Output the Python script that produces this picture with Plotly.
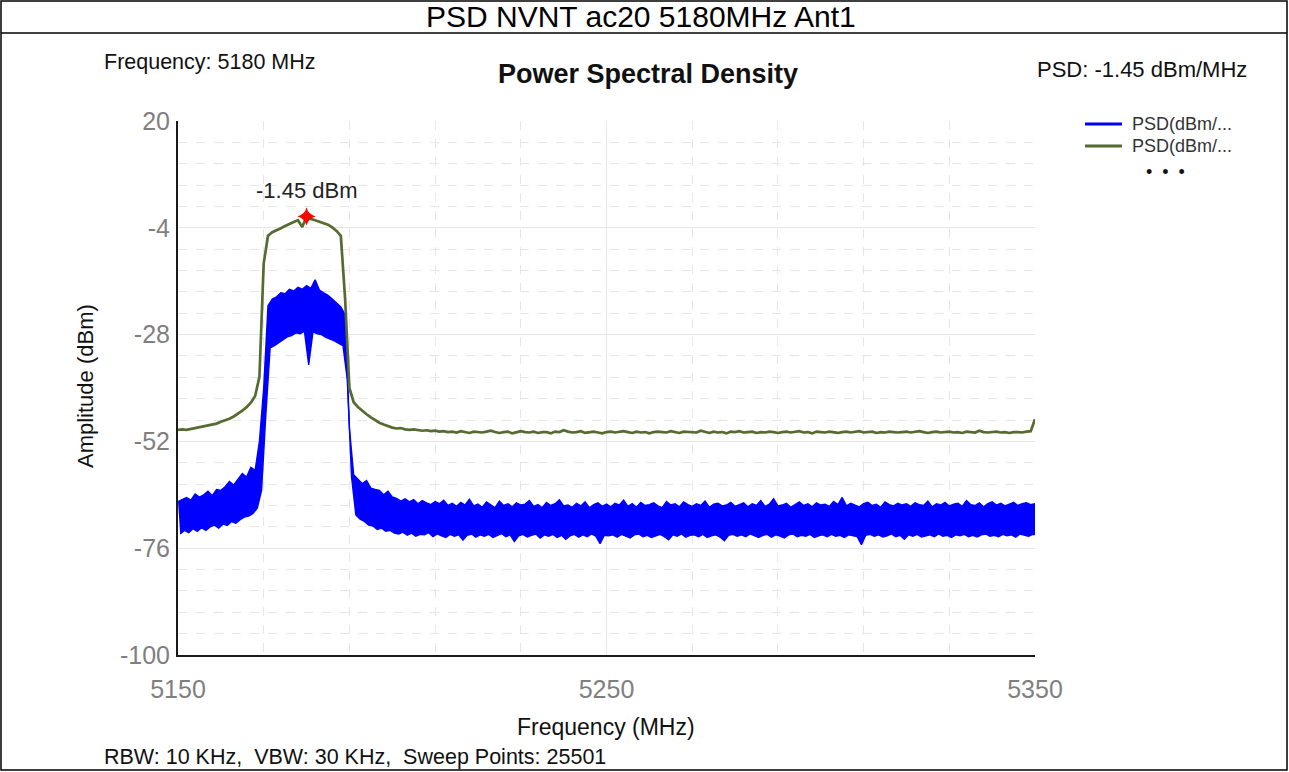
import plotly.graph_objects as go

# ---------------- data ----------------
F_START = 5150.0   # MHz, first sweep bin
F_STEP = 1.0       # MHz per displayed bin

# Max-hold trace (green), one value per displayed bin, 5150..5350 MHz
green_psd = [
    -49.4, -49.3, -49.4, -49.2, -49.1, -48.9, -48.7, -48.5, -48.2, -48.0,
    -47.6, -47.3, -46.9, -46.4, -45.8, -45.1, -44.3, -43.3, -41.8, -37.5,
    -12.0, -5.8, -5.0, -4.6, -4.1, -3.6, -3.1, -2.7, -2.3, -3.8,
    -1.45, -2.0, -2.3, -2.6, -2.9, -3.3, -3.9, -4.7, -5.8, -20.0,
    -40.0, -43.2, -44.3, -45.2, -45.9, -46.6, -47.2, -47.8, -48.2, -48.6,
    -48.9, -49.1, -49.0, -49.3, -49.4, -49.3, -49.5, -49.6, -49.5, -49.7,
    -49.6, -49.8, -49.7, -49.9, -49.8, -50.0, -49.7, -49.9, -50.1, -49.8,
    -49.9, -50.0, -49.8, -49.6, -49.9, -50.1, -49.9, -49.8, -50.2, -49.9,
    -49.7, -49.9, -50.0, -49.8, -50.1, -49.9, -49.9, -50.2, -49.8, -49.9,
    -49.5, -49.8, -50.0, -49.9, -49.7, -50.1, -49.9, -49.8, -50.0, -50.2,
    -49.9, -49.8, -50.0, -49.9, -49.7, -49.9, -50.1, -49.8, -50.0, -49.9,
    -50.2, -49.9, -49.8, -49.9, -50.0, -49.7, -49.9, -50.1, -49.8, -49.9,
    -49.9, -50.0, -49.6, -49.9, -50.1, -49.8, -50.0, -49.9, -50.2, -49.8,
    -49.9, -49.7, -50.0, -49.9, -49.8, -50.1, -49.9, -50.0, -49.8, -49.9,
    -50.1, -49.9, -49.8, -50.0, -49.9, -49.7, -50.0, -49.9, -50.2, -49.8,
    -49.9, -50.0, -49.8, -49.9, -50.1, -49.9, -49.8, -50.0, -49.9, -49.7,
    -50.0, -49.9, -49.8, -50.1, -49.9, -50.0, -49.8, -49.9, -50.0, -49.9,
    -49.8, -50.0, -49.9, -49.7, -49.9, -50.1, -49.9, -49.8, -50.0, -49.9,
    -49.8, -50.0, -49.9, -50.1, -49.8, -49.9, -50.0, -49.6, -49.9, -50.0,
    -49.9, -49.8, -50.0, -49.9, -50.1, -49.9, -49.9, -50.0, -49.8, -49.7,
    -47.0,
]

# Clear/write trace (blue): upper and lower reading in each displayed bin
blue_hi = [
    -65.5, -65.0, -64.6, -65.2, -63.8, -64.5, -64.0, -63.2, -64.2, -62.8,
    -63.0, -62.2, -61.0, -61.8, -60.5, -59.2, -60.0, -57.8, -58.5, -52.0,
    -40.0, -21.5, -20.0, -19.5, -18.6, -18.8, -17.8, -18.2, -17.4, -17.8,
    -17.0, -17.6, -15.7, -18.0, -18.6, -19.2, -20.0, -21.0, -21.8, -23.5,
    -49.0, -59.5, -60.5, -61.5, -60.8, -62.5, -62.8, -63.0, -64.0, -63.2,
    -64.5, -64.8, -65.4, -64.9, -65.6, -65.1, -66.0, -65.3, -65.8, -66.2,
    -65.5, -66.0, -65.2, -66.4, -65.9, -66.6, -65.7, -66.3, -65.0, -66.5,
    -66.1, -66.8, -65.6, -66.2, -66.9, -65.4, -66.4, -66.0, -66.7, -65.8,
    -66.3, -66.1, -65.3, -66.6, -66.2, -66.9, -65.7, -66.4, -66.0, -65.1,
    -66.5, -66.3, -66.8, -65.9, -66.5, -65.6, -66.9, -66.2, -65.8, -66.6,
    -66.1, -66.7, -65.9, -66.3, -65.2, -66.6, -66.0, -66.8, -65.7, -66.4,
    -66.2, -65.8, -66.5, -66.9, -65.5, -66.3, -66.0, -66.7, -65.6, -66.2,
    -66.6, -66.0, -66.4, -65.4, -66.8, -66.1, -65.9, -66.5, -66.3, -65.7,
    -66.6, -66.2, -65.8, -66.7, -66.0, -66.4, -65.3, -66.6, -66.1, -64.9,
    -66.5, -66.3, -65.9, -66.8, -66.2, -65.6, -66.4, -66.0, -66.7, -65.8,
    -66.3, -66.1, -66.6, -65.5, -66.2, -64.6, -66.5, -65.9, -66.3, -66.7,
    -66.0, -65.7, -66.4, -66.1, -66.8, -65.6, -66.2, -66.5, -65.9, -66.3,
    -66.0, -66.6, -65.8, -66.2, -66.4, -65.4, -66.7, -66.0, -66.3, -65.7,
    -66.5, -66.1, -65.9, -66.6, -65.3, -66.2, -66.4, -65.8, -66.7, -66.0,
    -65.6, -66.3, -65.9, -66.5, -66.1, -65.7, -66.4, -66.0, -65.8, -66.2,
    -66.0,
]
blue_lo = [
    -72.8, -72.0, -72.5, -71.6, -72.2, -71.4, -72.0, -71.2, -70.8, -71.5,
    -70.6, -70.9, -70.0, -70.4, -69.6, -69.0, -68.8, -68.2, -67.0, -63.0,
    -46.0, -31.0, -30.5, -29.8, -29.0, -28.5, -28.2, -27.6, -27.8, -27.2,
    -34.8, -27.4, -27.8, -28.0, -28.6, -29.0, -29.4, -30.0, -30.5, -38.0,
    -60.0, -68.5, -69.5, -70.0, -70.8, -71.0, -71.8, -71.5, -72.2, -72.0,
    -72.6, -72.8, -72.4, -73.1, -72.6, -73.3, -72.9, -73.0, -72.5, -73.4,
    -72.8, -73.2, -73.6, -72.9, -73.3, -73.0, -74.2, -73.1, -72.8, -73.5,
    -73.0, -73.3, -72.9, -73.6, -73.1, -72.7, -73.4, -73.0, -74.5, -73.2,
    -72.9, -73.5, -73.1, -72.8, -73.7, -73.0, -73.3, -72.9, -73.6, -73.1,
    -74.0, -73.2, -72.9, -73.5, -73.0, -73.4, -72.8, -73.3, -75.0, -73.1,
    -73.2, -73.0, -73.5, -72.9, -73.3, -73.7, -73.0, -72.8, -73.4, -73.1,
    -73.6, -73.2, -72.9, -73.4, -74.1, -73.0, -73.3, -72.8, -73.5, -73.1,
    -73.0, -73.4, -72.9, -73.6, -73.2, -73.0, -73.5, -74.3, -73.1, -72.9,
    -73.3, -73.0, -73.4, -72.8, -73.2, -73.6, -73.1, -72.9, -73.5, -73.0,
    -73.3, -73.7, -73.0, -72.8, -73.4, -73.1, -73.3, -72.9, -73.6, -73.2,
    -73.0, -73.4, -72.9, -73.3, -73.1, -73.6, -73.0, -73.2, -73.4, -75.2,
    -73.1, -72.9, -73.3, -73.0, -73.5, -73.2, -72.8, -73.4, -73.1, -74.0,
    -73.0, -73.3, -72.9, -73.5, -73.2, -73.0, -73.4, -72.8, -73.3, -73.1,
    -73.6, -73.0, -73.2, -72.9, -73.4, -73.1, -73.5, -73.0, -72.8, -73.3,
    -73.1, -73.4, -72.9, -73.2, -73.0, -73.5, -72.8, -73.1, -73.3, -72.9,
    -73.0,
]

peak_freq = 5180.0
peak_psd = -1.45

x_ticks = [5150, 5250, 5350]
y_ticks = [20, -4, -28, -52, -76, -100]

title_text = "PSD NVNT ac20 5180MHz Ant1"
chart_title = "Power Spectral Density"
freq_info = "Frequency: 5180 MHz"
psd_info = "PSD: -1.45 dBm/MHz"
bottom_info = "RBW: 10 KHz,&nbsp; VBW: 30 KHz,&nbsp; Sweep Points: 25501"
legend_names = ["PSD(dBm/...", "PSD(dBm/..."]
legend_colors = ["#0000FF", "#556B2F"]

# ---------------- figure ----------------
W, H = 1289, 772
L, R, T, B = 178, 1035, 121, 655   # plot-area pixel box
FONT = "Liberation Sans, Arial, sans-serif"


def px(p):
    return (p - L) / (R - L)


def py(p):
    return (B - p) / (B - T)


freq = [F_START + i * F_STEP for i in range(len(green_psd))]
freq_half = [f + F_STEP / 2 for f in freq]

fig = go.Figure()
# blue band: lower readings, then upper readings filled down to them
fig.add_trace(go.Scatter(x=freq_half, y=blue_lo, mode="lines",
                         line=dict(color="#0000FF", width=1.4),
                         showlegend=False, hoverinfo="skip"))
fig.add_trace(go.Scatter(x=freq, y=blue_hi, mode="lines",
                         line=dict(color="#0000FF", width=1.4),
                         fill="tonexty", fillcolor="#0000FF",
                         showlegend=False, hoverinfo="skip"))
fig.add_trace(go.Scatter(x=freq, y=green_psd, mode="lines",
                         line=dict(color="#556B2F", width=2.7),
                         showlegend=False, hoverinfo="skip"))
fig.add_trace(go.Scatter(x=[peak_freq], y=[peak_psd], mode="markers",
                         marker=dict(symbol="star-diamond", size=13, color="#FF0000"),
                         showlegend=False, hoverinfo="skip"))

fig.update_layout(
    width=W, height=H,
    margin=dict(l=L, r=W - R, t=T, b=H - B, pad=0),
    paper_bgcolor="white", plot_bgcolor="white",
    font=dict(family=FONT, color="#222222"),
    showlegend=False,
)

fig.update_xaxes(
    range=[5150, 5350], tickvals=x_ticks, ticktext=[str(v) for v in x_ticks],
    showgrid=True, gridcolor="#E6E6E6", gridwidth=1,
    showline=True, linecolor="#1A1A1A", linewidth=2, zeroline=False,
    ticks="", tickfont=dict(size=25, color="#7F7F7F", family=FONT),
    ticklabelstandoff=11,
    minor=dict(tick0=5150, dtick=20, showgrid=True, gridcolor="#E6E6E6",
               griddash="dash", gridwidth=1),
)
fig.update_yaxes(
    range=[-100, 20], tickvals=y_ticks, ticktext=[str(v) for v in y_ticks],
    showgrid=True, gridcolor="#E6E6E6", gridwidth=1,
    showline=True, linecolor="#1A1A1A", linewidth=2, zeroline=False,
    ticks="", tickfont=dict(size=25, color="#7F7F7F", family=FONT),
    ticklabelstandoff=1,
    minor=dict(tick0=-100, dtick=4.8, showgrid=True, gridcolor="#E6E6E6",
               griddash="dash", gridwidth=1),
)

ann = [
    dict(text=title_text, x=px(641), y=py(17), size=30, xa="center", color="#000000"),
    dict(text=freq_info, x=px(102), y=py(62), size=21.5, xa="left", color="#111111"),
    dict(text="<b>" + chart_title + "</b>", x=px(648), y=py(74), size=27, xa="center", color="#111111"),
    dict(text=psd_info, x=px(1249), y=py(69), size=22, xa="right", color="#111111"),
    dict(text=bottom_info, x=px(102), y=py(757), size=21.5, xa="left", color="#111111"),
    dict(text="Frequency (MHz)", x=px(606), y=py(727), size=23, xa="center", color="#111111"),
    dict(text="&#8226;&nbsp;&nbsp;&#8226;&nbsp;&nbsp;&#8226;", x=px(1165), y=py(172), size=18, xa="center", color="#111111"),
]
for a in ann:
    fig.add_annotation(text=a["text"], x=a["x"], y=a["y"], xref="paper", yref="paper",
                       xanchor=a["xa"], yanchor="middle", showarrow=False,
                       font=dict(size=a["size"], color=a["color"], family=FONT))

fig.add_annotation(text="Amplitude (dBm)", x=px(85), y=py(386), xref="paper", yref="paper",
                   textangle=-90, xanchor="center", yanchor="middle", showarrow=False,
                   font=dict(size=22, color="#111111", family=FONT))
fig.add_annotation(text="-1.45 dBm", x=peak_freq, y=peak_psd, xref="x", yref="y",
                   yshift=26, xanchor="center", yanchor="middle", showarrow=False,
                   font=dict(size=22, color="#222222", family=FONT))

# legend (drawn as line samples + labels)
for i, (name, col) in enumerate(zip(legend_names, legend_colors)):
    yy = 124 + 22 * i
    fig.add_shape(type="line", xref="paper", yref="paper",
                  x0=px(1085), x1=px(1122), y0=py(yy), y1=py(yy),
                  line=dict(color=col, width=3))
    fig.add_annotation(text=name, x=px(1130), y=py(yy), xref="paper", yref="paper",
                       xanchor="left", yanchor="middle", showarrow=False,
                       font=dict(size=18, color="#333333", family=FONT))

# frame and title separator
fig.add_shape(type="rect", xref="paper", yref="paper",
              x0=px(1), x1=px(1287), y0=py(1), y1=py(770),
              line=dict(color="#000000", width=1.5), layer="above")
fig.add_shape(type="line", xref="paper", yref="paper",
              x0=px(1), x1=px(1287), y0=py(33), y1=py(33),
              line=dict(color="#000000", width=1.5), layer="above")

fig.write_html("out.html",
               config={"displayModeBar": False},
               post_script="document.body.style.margin='0';"
                           "document.body.style.overflow='hidden';")
